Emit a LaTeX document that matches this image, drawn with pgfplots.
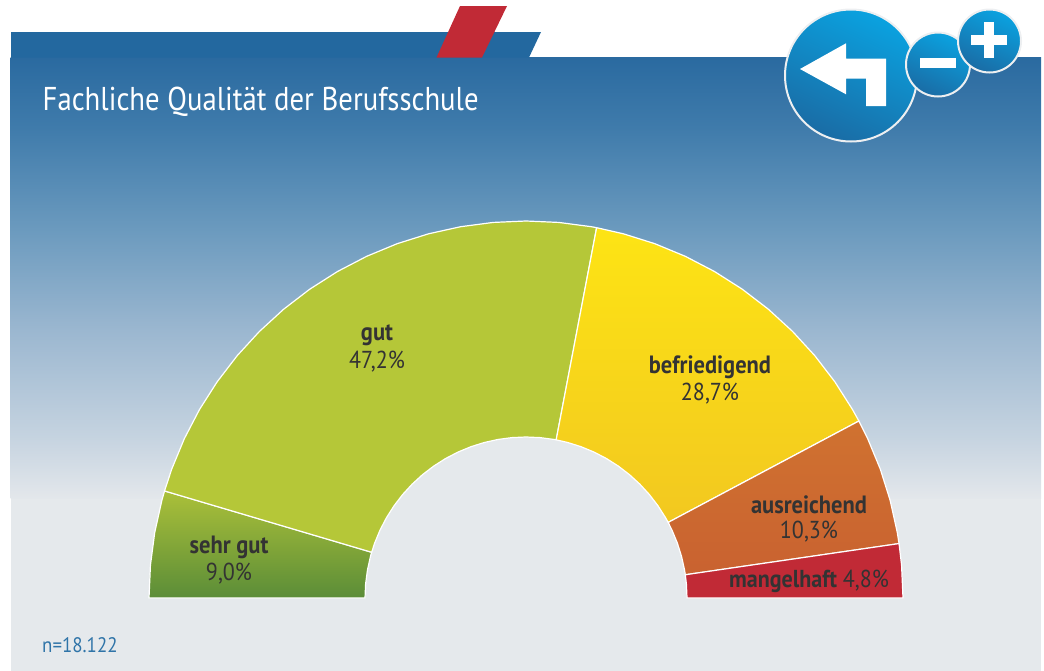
\documentclass[border=0pt]{standalone}
\usepackage{pgfplots}
\pgfplotsset{compat=1.18}
\usepackage{fontspec}
\setmainfont{PT Sans}
\newfontfamily\cond[FakeStretch=0.9]{PT Sans}
\newfontfamily\titlef[FakeStretch=0.87]{PT Sans}
\definecolor{bg0}{HTML}{2A6AA0}
\definecolor{bg1}{HTML}{3F7BAB}
\definecolor{bg2}{HTML}{6B9ABE}
\definecolor{bg3}{HTML}{9BB7D0}
\definecolor{bg4}{HTML}{C5D3E0}
\definecolor{bg5}{HTML}{E3E7EB}
\definecolor{pale}{HTML}{E5E9EC}
\definecolor{strip}{HTML}{23689F}
\definecolor{redbar}{HTML}{C12A36}
\definecolor{txt}{HTML}{333333}
\definecolor{nblue}{HTML}{2F74A8}
\definecolor{btnA}{HTML}{0AA2E0}
\definecolor{btnB}{HTML}{1A6CA5}
\definecolor{ring}{HTML}{EDEFF1}
\definecolor{HGa}{HTML}{ABC039}
\definecolor{HGb}{HTML}{5B8D38}
\definecolor{HGc}{HTML}{B5C738}
\definecolor{HYa}{HTML}{FDE414}
\definecolor{HYb}{HTML}{F2C820}
\definecolor{HOa}{HTML}{D07230}
\definecolor{HOb}{HTML}{C96230}
\pgfdeclareverticalshading{bgshade}{100bp}{color(0bp)=(bg5);color(25bp)=(bg5);color(32bp)=(bg4);color(44bp)=(bg3);color(55.5bp)=(bg2);color(67bp)=(bg1);color(75bp)=(bg0);color(100bp)=(bg0)}
\pgfplotsset{
  base/.style={x=1pt,y=1pt,hide axis,clip=false,scale only axis},
  px/.style={base,xmin=0,xmax=1044,ymin=0,ymax=670,y dir=reverse},
  wedge/.style={data cs=polar,no markers,draw=white,line width=1.2pt,line join=round},
}
\newcommand{\lab}[4]{\node[font=\cond\fontsize{25}{25}\selectfont\bfseries,text=txt,anchor=center] at (axis cs:#1,#2) {#3};
  \node[font=\cond\fontsize{24.5}{24.5}\selectfont,text=txt,anchor=center] at (axis cs:#1,#2+27) {#4};}
\begin{document}
\begin{tikzpicture}
% background layer, in pixel coordinates
\begin{axis}[px]
\path[use as bounding box] (axis cs:0,0) rectangle (axis cs:1044,670);
\fill[pale] (axis cs:10.5,498) rectangle (axis cs:1041,680);
\path[shading=bgshade] (axis cs:10.5,57) rectangle (axis cs:1041,498);
\fill[strip] (axis cs:11,32) -- (axis cs:541,32) -- (axis cs:529,57.5) -- (axis cs:11,57.5) -- cycle;
\fill[redbar] (axis cs:460,6) -- (axis cs:507,6) -- (axis cs:482,57.5) -- (axis cs:436.5,57.5) -- cycle;
\fill[pale] (axis cs:526,598) circle[radius=162pt];
\end{axis}
% half ring: (angle, radius) around the centre of the ring
\begin{axis}[base,xmin=-526,xmax=518,ymin=-72,ymax=598]
% sehr gut 9,0
\addplot[wedge,top color=HGa,bottom color=HGb] coordinates {
(180,377)(175,377)(170,377)(165,377)(163.5,377)
(163.5,161)(165,161)(170,161)(175,161)(180,161)} -- cycle;
% gut 47,2
\addplot[wedge,fill=HGc] coordinates {
(163.5,377)(160,377)(155,377)(150,377)(145,377)(140,377)(135,377)(130,377)(125,377)(120,377)(115,377)(110,377)(105,377)(100,377)(95,377)(90,377)(85,377)(80,377)(79.2,377)
(79.2,161)(80,161)(85,161)(90,161)(95,161)(100,161)(105,161)(110,161)(115,161)(120,161)(125,161)(130,161)(135,161)(140,161)(145,161)(150,161)(155,161)(160,161)(163.5,161)} -- cycle;
% befriedigend 28,7
\addplot[wedge,top color=HYa,bottom color=HYb] coordinates {
(79.2,377)(75,377)(70,377)(65,377)(60,377)(55,377)(50,377)(45,377)(40,377)(35,377)(30,377)(28,377)
(28,161)(30,161)(35,161)(40,161)(45,161)(50,161)(55,161)(60,161)(65,161)(70,161)(75,161)(79.2,161)} -- cycle;
% ausreichend 10,3
\addplot[wedge,top color=HOa,bottom color=HOb] coordinates {
(28,377)(25,377)(20,377)(15,377)(10,377)(8.3,377)
(8.3,161)(10,161)(15,161)(20,161)(25,161)(28,161)} -- cycle;
% mangelhaft 4,8
\addplot[wedge,fill=redbar] coordinates {
(8.3,377)(5,377)(0,377)
(0,161)(5,161)(8.3,161)} -- cycle;
\end{axis}
% texts and buttons, in pixel coordinates
\begin{axis}[px]
\node[anchor=base west,text=white,inner sep=0pt,font=\titlef\fontsize{33}{33}\selectfont] at (axis cs:42.5,110.5) {Fachliche Qualität der Berufsschule};
\lab{377}{335}{gut}{47,2\%}
\lab{710}{367}{befriedigend}{28,7\%}
\lab{809}{505}{ausreichend}{10,3\%}
\lab{229}{547}{sehr gut}{9,0\%}
\node[font=\cond\fontsize{24.5}{24.5}\selectfont,text=txt,anchor=center] at (axis cs:809,581) {\textbf{mangelhaft} 4,8\%};
\node[anchor=west,inner sep=0pt,text=nblue,font=\cond\fontsize{21}{21}\selectfont] at (axis cs:42,645) {n=18.122};
% big button
\path[draw=ring,line width=2pt,left color=btnA,right color=btnB,shading angle=-25] (axis cs:851,75.5) circle[radius=66pt];
\fill[white] (axis cs:800,69) -- (axis cs:846,43.3) -- (axis cs:846,58.7) -- (axis cs:886,58.7) -- (axis cs:886,106) -- (axis cs:866,106) -- (axis cs:866,78.7) -- (axis cs:846,78.7) -- (axis cs:846,94.3) -- cycle;
\path[draw=ring,line width=2pt,left color=btnA,right color=btnB,shading angle=-25] (axis cs:938,64.5) circle[radius=32pt];
\fill[white] (axis cs:920,57.7) rectangle (axis cs:956,68);
\path[draw=ring,line width=2pt,left color=btnA,right color=btnB,shading angle=-25] (axis cs:989.5,41) circle[radius=31.5pt];
\fill[white] (axis cs:971,34.7) rectangle (axis cs:1007,45);
\fill[white] (axis cs:984,21.7) rectangle (axis cs:994.3,57.7);
\end{axis}
\end{tikzpicture}
\end{document}
